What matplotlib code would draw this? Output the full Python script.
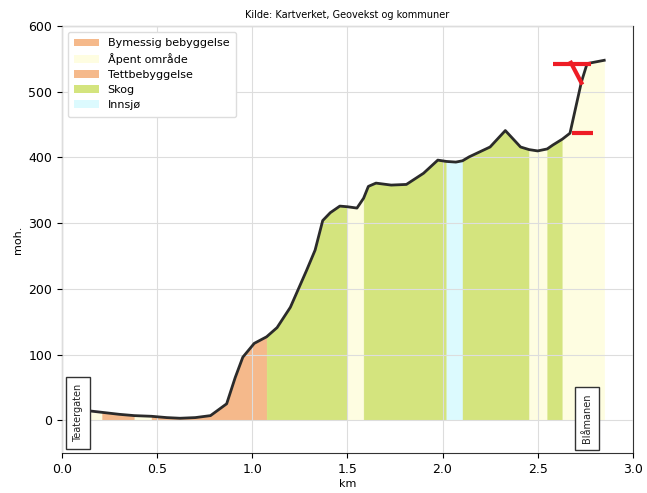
import matplotlib
matplotlib.use("Agg")
import matplotlib.pyplot as plt
from matplotlib.patches import Patch
import numpy as np

# Profile: distance (km), elevation (moh.), land-cover class of the interval ending at the point
dist = [0.15, 0.21, 0.30, 0.38, 0.47, 0.55, 0.62, 0.70, 0.78, 0.865, 0.91, 0.95, 1.01, 1.075,
        1.13, 1.20, 1.285, 1.33, 1.37, 1.41, 1.46, 1.50, 1.55, 1.585, 1.61, 1.65, 1.73, 1.81,
        1.90, 1.975, 2.02, 2.07, 2.105, 2.14, 2.25, 2.33, 2.41, 2.455, 2.50, 2.55, 2.58, 2.63,
        2.67, 2.73, 2.76, 2.85]
elev = [14, 12, 9, 7, 6, 4, 3, 4, 7, 25, 65, 96, 117, 127,
        141, 172, 228, 259, 304, 316, 326, 325, 323, 338, 356, 361, 358, 359,
        376, 396, 394, 393, 395, 401, 416, 441, 416, 412, 410, 413, 419, 428,
        437, 515, 543, 548]
cover = ["", "Åpent område", "Bymessig bebyggelse", "Bymessig bebyggelse", "Åpent område",
         "Tettbebyggelse", "Tettbebyggelse", "Tettbebyggelse", "Tettbebyggelse", "Tettbebyggelse",
         "Tettbebyggelse", "Tettbebyggelse", "Tettbebyggelse", "Tettbebyggelse",
         "Skog", "Skog", "Skog", "Skog", "Skog", "Skog", "Skog", "Skog",
         "Åpent område", "Åpent område", "Skog", "Skog", "Skog", "Skog",
         "Skog", "Skog", "Skog", "Innsjø", "Innsjø", "Skog", "Skog", "Skog", "Skog", "Skog",
         "Åpent område", "Åpent område", "Skog", "Skog",
         "Åpent område", "Åpent område", "Åpent område", "Åpent område"]

classes = ["Bymessig bebyggelse", "Åpent område", "Tettbebyggelse", "Skog", "Innsjø"]
class_colors = ["#F5B98B", "#FEFDE1", "#F5B98B", "#D4E47E", "#DCFAFE"]

# Red markers (km, moh.)
red_x = [[2.58, 2.78], [2.68, 2.79], [2.67, 2.735]]
red_y = [[542, 542], [437, 437], [547, 511]]

places = ["Teatergaten", "Blåmanen"]
place_x = [0.085, 2.76]
place_y = [11, 3]

fig = plt.figure(figsize=(6.47, 4.93), dpi=100)
ax = fig.add_axes([0.096, 0.081, 0.882, 0.866])

cmap = dict(zip(classes, class_colors))
# group contiguous intervals of the same class into one filled polygon
i = 1
n = len(dist)
while i < n:
    j = i
    while j + 1 < n and cover[j + 1] == cover[i]:
        j += 1
    ax.fill_between(dist[i - 1:j + 1], 0, elev[i - 1:j + 1],
                    facecolor=cmap[cover[i]], edgecolor=cmap[cover[i]], linewidth=0.3, zorder=1)
    i = j + 1

ax.plot(dist, elev, color="#2b2b2b", lw=2.0, zorder=4)
for xs, ys in zip(red_x, red_y):
    ax.plot(xs, ys, color="#ee1c25", lw=3, solid_capstyle="butt", zorder=5)

for name, x, y in zip(places, place_x, place_y):
    ax.text(x, y, name, rotation=90, ha="center", va="center", fontsize=7, color="#222",
            bbox=dict(boxstyle="square,pad=0.7", fc="white", ec="#333", lw=1), zorder=6)

ax.set_xlim(0, 3.0)
ax.set_ylim(-50, 600)
ax.set_xticks([0.0, 0.5, 1.0, 1.5, 2.0, 2.5, 3.0])
ax.set_yticks([0, 100, 200, 300, 400, 500, 600])
ax.grid(True, color="#dddddd", lw=0.8, zorder=2)
ax.set_axisbelow(False)
for gl in ax.get_xgridlines() + ax.get_ygridlines():
    gl.set_zorder(2)
ax.tick_params(labelsize=9)
ax.set_xlabel("km", fontsize=8, labelpad=2)
ax.set_ylabel("moh.", fontsize=8)
ax.set_title("Kilde: Kartverket, Geovekst og kommuner", fontsize=7, pad=6)
for s in ax.spines.values():
    s.set_color("#333")

handles = [Patch(facecolor=c, edgecolor="none", label=l) for l, c in zip(classes, class_colors)]
leg = ax.legend(handles=handles, loc="upper left", fontsize=8, framealpha=1,
                edgecolor="#dddddd", handlelength=2.2, borderpad=0.6, labelspacing=0.45)
leg.set_zorder(7)

fig.savefig("out.png", dpi=100)
